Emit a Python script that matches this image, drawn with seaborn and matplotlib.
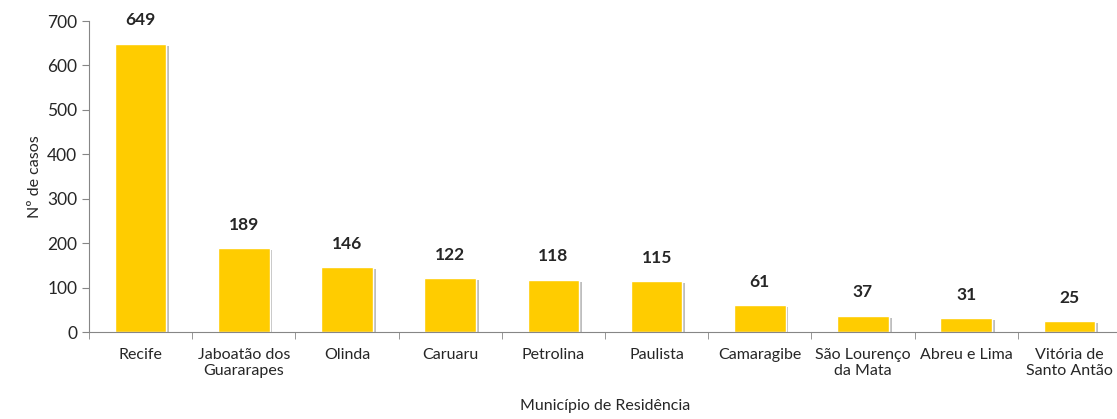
import matplotlib
matplotlib.use("Agg")
import matplotlib.pyplot as plt
import matplotlib.patheffects as pe
import seaborn as sns
import pandas as pd

municipios = ["Recife", "Jaboatão dos\nGuararapes", "Olinda", "Caruaru", "Petrolina",
              "Paulista", "Camaragibe", "São Lourenço\nda Mata", "Abreu e Lima",
              "Vitória de\nSanto Antão"]
casos = [649, 189, 146, 122, 118, 115, 61, 37, 31, 25]

df = pd.DataFrame({"municipio": municipios, "casos": casos})

sns.set_style("white")
plt.rcParams["font.family"] = ["Lato", "DejaVu Sans"]

fig = plt.figure(figsize=(11.17, 4.19), dpi=100)
ax = fig.add_axes([89 / 1117, 87 / 419, 1032 / 1117, 311 / 419])

sns.barplot(data=df, x="municipio", y="casos", color="#FFCC00", width=0.5,
            saturation=1, ax=ax)

for p in ax.patches:
    p.set_path_effects([pe.SimplePatchShadow(offset=(2, -1.5), shadow_rgbFace="#8a8a8a", alpha=0.55),
                        pe.Normal()])

for i, v in enumerate(casos):
    ax.annotate(str(v), (i, v), xytext=(0, 11), textcoords="offset points",
                ha="center", va="bottom", fontsize=12.5, fontweight="bold")

ax.set_ylim(0, 700)
ax.set_yticks(range(0, 701, 100))
ax.set_xlim(-0.5, len(casos) - 0.5)
ax.set_ylabel("Nº de casos", fontsize=11.5)
ax.set_xlabel("Município de Residência", fontsize=11.5, labelpad=15)

for s in ["top", "right"]:
    ax.spines[s].set_visible(False)
for s in ["left", "bottom"]:
    ax.spines[s].set_color("#868686")

ax.tick_params(axis="y", which="major", left=True, length=5, color="#868686", labelsize=12.5)
ax.tick_params(axis="x", which="major", bottom=False, labelsize=11.5, pad=8)
ax.set_xticks([i - 0.5 for i in range(len(casos) + 1)], minor=True)
ax.tick_params(axis="x", which="minor", bottom=True, length=5, color="#868686")

fig.savefig("out.png", dpi=100)
